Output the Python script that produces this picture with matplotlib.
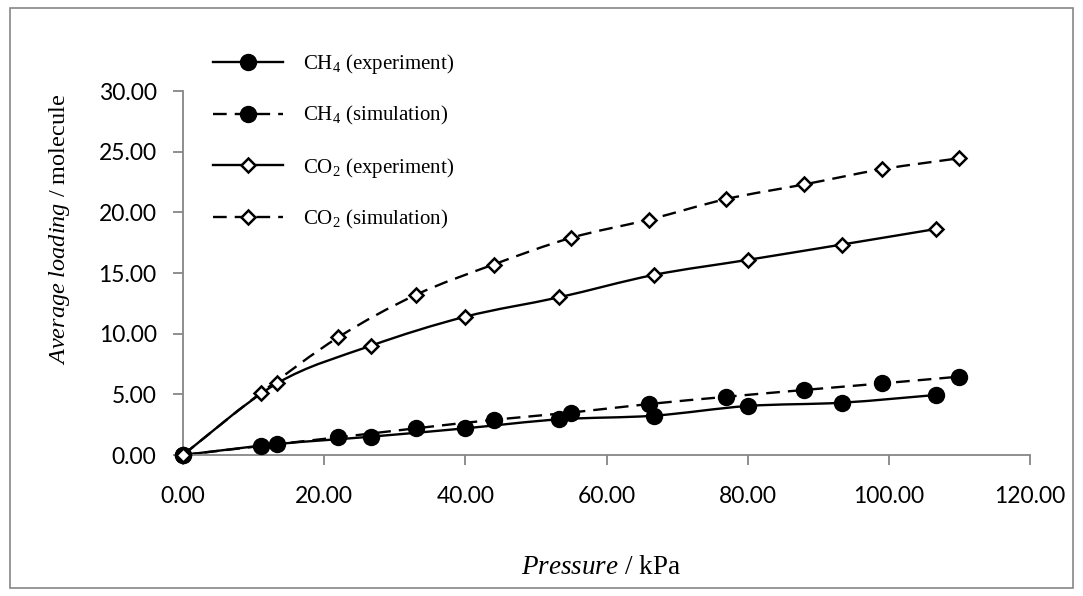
import numpy as np
import matplotlib
matplotlib.use("Agg")
import matplotlib.pyplot as plt
from matplotlib.path import Path
from matplotlib.patches import PathPatch, Rectangle
from matplotlib.lines import Line2D

plt.rcParams["font.family"] = "Liberation Serif"
plt.rcParams["mathtext.fontset"] = "custom"
plt.rcParams["mathtext.rm"] = "Liberation Serif"
plt.rcParams["mathtext.it"] = "Liberation Serif:italic"

# pressure points (kPa)
p_exp = [0, 13.3, 26.6, 40.0, 53.3, 66.7, 80.0, 93.3, 106.7]
p_sim = [0, 11, 22, 33, 44, 55, 66, 77, 88, 99, 110]

# average loading (molecules)
ch4_exp = [0, 0.90, 1.51, 2.20, 2.94, 3.24, 4.04, 4.31, 4.95]
ch4_sim = [0, 0.74, 1.46, 2.20, 2.90, 3.50, 4.20, 4.80, 5.36, 5.90, 6.46]
co2_exp = [0, 5.90, 9.00, 11.40, 13.00, 14.84, 16.08, 17.34, 18.63]
co2_sim = [0, 5.10, 9.70, 13.20, 15.70, 17.90, 19.40, 21.10, 22.30, 23.55, 24.46]

labels = ["CH$_4$ (experiment)", "CH$_4$ (simulation)",
          "CO$_2$ (experiment)", "CO$_2$ (simulation)"]
xticks = [0, 20, 40, 60, 80, 100, 120]
yticks = [0, 5, 10, 15, 20, 25, 30]

LW = 1.7
DASH = (0, (5.8, 3.4))
GRAY = "#868686"


def smooth_path(xs, ys):
    # spreadsheet-style smoothed line: Catmull-Rom segments as cubic Beziers
    pts = np.column_stack([xs, ys]).astype(float)
    ext = np.vstack([pts[0], pts, pts[-1]])
    verts = [pts[0]]
    codes = [Path.MOVETO]
    for i in range(len(pts) - 1):
        p0, p1, p2, p3 = ext[i], ext[i + 1], ext[i + 2], ext[i + 3]
        verts += [p1 + (p2 - p0) / 6, p2 - (p3 - p1) / 6, p2]
        codes += [Path.CURVE4] * 3
    return Path(verts, codes)


fig = plt.figure(figsize=(10.83, 5.96), dpi=100)
ax = fig.add_axes([183 / 1083, 1 - 455 / 596, (1030 - 183) / 1083, (455 - 91) / 596])

series = [
    (p_exp, ch4_exp, "-", dict(marker="o", ms=11.5, mfc="black", mec="black")),
    (p_sim, ch4_sim, DASH, dict(marker="o", ms=11.5, mfc="black", mec="black")),
    (p_exp, co2_exp, "-", dict(marker="D", ms=6.8, mfc="white", mec="black", mew=1.8)),
    (p_sim, co2_sim, DASH, dict(marker="D", ms=6.8, mfc="white", mec="black", mew=1.8)),
]

handles = []
for xs, ys, ls, mk in series:
    ax.add_patch(PathPatch(smooth_path(xs, ys), fill=False, edgecolor="black",
                           lw=LW, linestyle=ls, zorder=2, clip_on=False))
    ax.plot(xs, ys, ls="none", zorder=3, clip_on=False, **mk)
    handles.append(Line2D([], [], color="black", lw=LW, linestyle=ls, **mk))

ax.set_xlim(0, 120)
ax.set_ylim(0, 30)
ax.set_xticks(xticks)
ax.set_yticks(yticks)
ax.set_xticklabels([f"{v:.2f}" for v in xticks])
ax.set_yticklabels([f"{v:.2f}" for v in yticks])
for lbl in ax.get_xticklabels() + ax.get_yticklabels():
    lbl.set_fontfamily("Lato")
    lbl.set_fontsize(16.5)

for side in ["top", "right"]:
    ax.spines[side].set_visible(False)
for side in ["left", "bottom"]:
    ax.spines[side].set_color(GRAY)
    ax.spines[side].set_linewidth(1.3)
ax.tick_params(direction="out", length=7, width=1.3, color=GRAY)
ax.tick_params(axis="x", pad=15)
ax.tick_params(axis="y", pad=12)

fig.text(601 / 1083, 1 - 568 / 596, r"$\it{Pressure}$ / kPa",
         ha="center", va="center", fontsize=19.5)
fig.text(60 / 1083, 1 - 229 / 596, r"$\it{Average\ loading}$ / molecule",
         ha="center", va="center", rotation=90, fontsize=17.5)

ax.legend(handles, labels, loc="upper left", frameon=False,
          bbox_to_anchor=(213 / 1083, 1 - 52 / 596), bbox_transform=fig.transFigure,
          prop={"family": "Liberation Serif", "size": 15},
          handlelength=3.35, handletextpad=0.95, labelspacing=1.36,
          borderpad=0, borderaxespad=0)

# chart area border
fig.patches.append(Rectangle((10 / 1083, 8 / 596), 1063 / 1083, 580 / 596,
                             transform=fig.transFigure, fill=False,
                             edgecolor=GRAY, lw=1.2))

fig.savefig("out.png", dpi=100, facecolor="white")
